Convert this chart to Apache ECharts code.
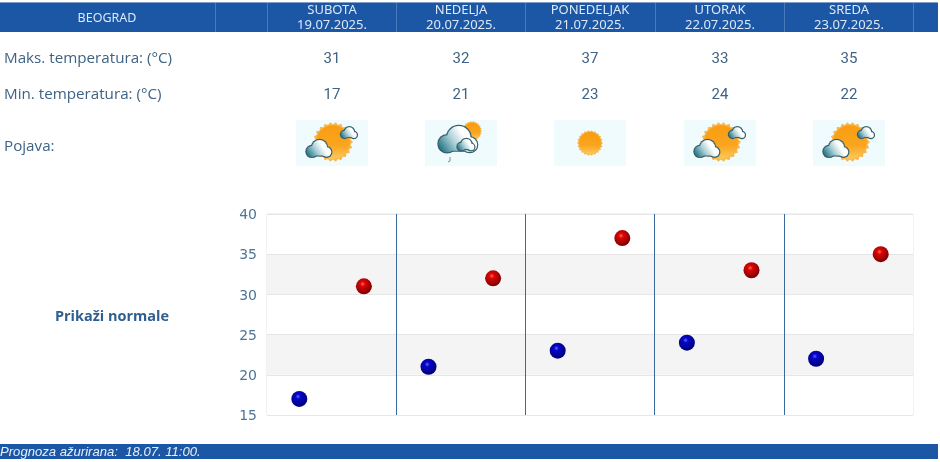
<!DOCTYPE html>
<html>
<head>
<meta charset="utf-8">
<title>Prognoza Beograd</title>
<style>
    html, body { margin: 0; padding: 0; background: #fff; }
    #chart-container { width: 940px; height: 462px; }
</style>
<script src="https://cdn.jsdelivr.net/npm/echarts@6/dist/echarts.min.js"></script>
</head>
<body>
<div id="chart-container"></div>
<script>
const city = 'BEOGRAD';
const days = ['SUBOTA', 'NEDELJA', 'PONEDELJAK', 'UTORAK', 'SREDA'];
const dates = ['19.07.2025.', '20.07.2025.', '21.07.2025.', '22.07.2025.', '23.07.2025.'];
const maxTemps = [31, 32, 37, 33, 35];
const minTemps = [17, 21, 23, 24, 22];
const weatherIcons = ['sunCloud', 'rain', 'sun', 'sunCloud', 'sunCloud'];
const yTicks = [15, 20, 25, 30, 35, 40];

const textColor = '#3f6285';
const headerBlue = '#1c57a5';
const columnCenters = [332, 461, 590, 720, 849];
const headerLines = [215, 267, 396, 525, 655, 784, 913];

// every day takes two slots on the axis: min first, then max
let slots = [];
let minData = [];
let maxData = [];
for (let i = 0; i < days.length; i++) {
    slots.push(dates[i] + ' min', dates[i] + ' max');
    minData.push(minTemps[i], null);
    maxData.push(null, maxTemps[i]);
}

function label(text, x, y, font, color, align) {
    return {
        type: 'text',
        x: x,
        y: y,
        z: 10,
        style: {
            text: text,
            font: font,
            fill: color,
            textAlign: align || 'center',
            textVerticalAlign: 'middle'
        }
    };
}

function sun(cx, cy, r) {
    let points = [];
    let spikes = 22;
    for (let i = 0; i < spikes * 2; i++) {
        let a = Math.PI * i / spikes;
        let rr = i % 2 == 0 ? r : r * 0.88;
        points.push([cx + rr * Math.cos(a), cy + rr * Math.sin(a)]);
    }
    return [
        { type: 'polygon', z: 3, shape: { points: points }, style: { fill: '#f9b64a' } },
        {
            type: 'circle', z: 4, shape: { cx: cx, cy: cy, r: r * 0.84 },
            style: {
                fill: new echarts.graphic.LinearGradient(0.5, 0, 0.5, 1, [
                    { offset: 0, color: '#f99c12' },
                    { offset: 0.6, color: '#faa51e' },
                    { offset: 1, color: '#fcc95a' }
                ])
            }
        }
    ];
}

function cloud(cx, cy, w, z) {
    let h = w * 0.6;
    let lobes = [
        [-0.28 * w, 0.16 * h, 0.22 * w],
        [0.02 * w, -0.1 * h, 0.3 * w],
        [0.3 * w, 0.2 * h, 0.19 * w]
    ];
    let fill = new echarts.graphic.LinearGradient(cx - w / 2, cy + h / 2, cx + w / 4, cy - h / 3, [
        { offset: 0, color: '#0b6273' },
        { offset: 0.5, color: '#a9cfd6' },
        { offset: 0.85, color: '#ffffff' },
        { offset: 1, color: '#ffffff' }
    ], true);
    let parts = [];
    lobes.forEach(function (l) {
        parts.push({
            type: 'circle', z: z, shape: { cx: cx + l[0], cy: cy + l[1], r: l[2] + 1.2 },
            style: { fill: '#35606c' }
        });
    });
    parts.push({
        type: 'rect', z: z, shape: { x: cx - 0.5 * w, y: cy, width: w, height: 0.5 * h, r: 0.2 * h },
        style: { fill: '#35606c' }
    });
    lobes.forEach(function (l) {
        parts.push({
            type: 'circle', z: z + 1, shape: { cx: cx + l[0], cy: cy + l[1], r: l[2] },
            style: { fill: fill }
        });
    });
    parts.push({
        type: 'rect', z: z + 1, shape: { x: cx - 0.5 * w + 1, y: cy, width: w - 2, height: 0.5 * h - 1, r: 0.2 * h },
        style: { fill: fill }
    });
    return parts;
}

function weatherIcon(kind, cx) {
    let cy = 143;
    let parts = [{
        type: 'rect', z: 1, shape: { x: cx - 36, y: cy - 23, width: 72, height: 46 },
        style: { fill: '#f0fbfe' }
    }];
    if (kind == 'sun') {
        parts = parts.concat(sun(cx, cy, 13));
    } else if (kind == 'sunCloud') {
        parts = parts.concat(sun(cx + 1, cy - 1, 20));
        parts = parts.concat(cloud(cx + 17, cy - 10, 16, 5));
        parts = parts.concat(cloud(cx - 13, cy + 6, 25, 5));
    } else {
        parts = parts.concat(sun(cx + 11, cy - 12, 10));
        parts = parts.concat(cloud(cx - 3, cy - 3, 39, 5));
        parts = parts.concat(cloud(cx + 5, cy + 2, 17, 7));
        parts.push({
            type: 'polyline', z: 5,
            shape: { points: [[cx - 11, cy + 14], [cx - 11, cy + 18], [cx - 13, cy + 19]] },
            style: { stroke: '#6f8f95', lineWidth: 1, fill: 'none' }
        });
    }
    return parts;
}

function buildGraphic() {
    let elements = [
        { type: 'rect', shape: { x: 0, y: 2, width: 938, height: 30 }, style: { fill: headerBlue } },
        { type: 'rect', shape: { x: 0, y: 2, width: 938, height: 1 }, style: { fill: '#7f9fc7' } },
        { type: 'rect', shape: { x: 0, y: 444, width: 938, height: 15 }, style: { fill: headerBlue } }
    ];
    headerLines.forEach(function (x) {
        elements.push({
            type: 'line', z: 2, shape: { x1: x + 0.5, y1: 3, x2: x + 0.5, y2: 32 },
            style: { stroke: '#4c7ab8', lineWidth: 1 }
        });
    });

    const headFont = '13px "Noto Sans"';
    const rowFont = '15.2px "Open Sans"';
    const valueFont = '15px Roboto';
    elements.push(label(city, 107, 18, '12.5px "Noto Sans"', '#dce8f6'));
    for (let i = 0; i < days.length; i++) {
        let x = columnCenters[i];
        elements.push(label(days[i], x, 10, headFont, '#dce8f6'));
        elements.push(label(dates[i], x, 25, headFont, '#dce8f6'));
        elements.push(label(String(maxTemps[i]), x, 59, valueFont, textColor));
        elements.push(label(String(minTemps[i]), x, 95, valueFont, textColor));
        elements = elements.concat(weatherIcon(weatherIcons[i], x));
    }
    elements.push(label('Maks. temperatura: (°C)', 4, 59, rowFont, textColor, 'left'));
    elements.push(label('Min. temperatura: (°C)', 4, 95, rowFont, textColor, 'left'));
    elements.push(label('Pojava:', 4, 147, rowFont, textColor, 'left'));
    elements.push(label('Prikaži normale', 112, 317, 'bold 14.5px "Open Sans"', '#2f5f8f'));
    elements.push(label('Prognoza ažurirana:  18.07. 11:00.', 0, 452, 'italic 13.1px "Liberation Sans"', '#e8f0fa', 'left'));
    return elements;
}

function ball(light, mid, dark) {
    return new echarts.graphic.RadialGradient(0.42, 0.35, 0.62, [
        { offset: 0, color: light },
        { offset: 0.25, color: mid },
        { offset: 1, color: dark }
    ]);
}

let dom = document.getElementById('chart-container');
let myChart = echarts.init(dom, null, { renderer: 'canvas' });

let option = {
    animation: false,
    grid: {
        show: true,
        left: 267,
        right: 27,
        top: 214,
        bottom: 47,
        borderColor: '#e4e4e4',
        borderWidth: 1,
        backgroundColor: 'transparent'
    },
    xAxis: {
        type: 'category',
        data: slots,
        boundaryGap: true,
        axisLine: { show: false },
        axisTick: { show: false },
        axisLabel: { show: false },
        splitLine: {
            show: true,
            showMaxLine: false,
            interval: function (index) {
                return index > 0 && index % 2 == 0;
            },
            lineStyle: { color: '#3a6a9c', width: 1 }
        }
    },
    yAxis: {
        type: 'value',
        min: yTicks[0],
        max: yTicks[yTicks.length - 1],
        interval: 5,
        axisLine: { show: false },
        axisTick: { show: false },
        axisLabel: {
            margin: 10,
            verticalAlign: 'top',
            lineHeight: 3,
            color: '#4f7499',
            fontFamily: 'DejaVu Sans',
            fontSize: 14
        },
        splitLine: { show: true, lineStyle: { color: '#e6e6e6', width: 1 } },
        splitArea: { show: true, areaStyle: { color: ['#ffffff', '#f4f4f4'] } }
    },
    graphic: buildGraphic(),
    series: [
        {
            name: 'Min',
            type: 'scatter',
            symbolSize: 16,
            data: minData,
            itemStyle: { opacity: 1, color: ball('#5a66ff', '#0606c8', '#00007a') }
        },
        {
            name: 'Max',
            type: 'scatter',
            symbolSize: 16,
            data: maxData,
            itemStyle: { opacity: 1, color: ball('#ff6a60', '#dc0505', '#800000') }
        }
    ]
};

myChart.setOption(option);
</script>
</body>
</html>
